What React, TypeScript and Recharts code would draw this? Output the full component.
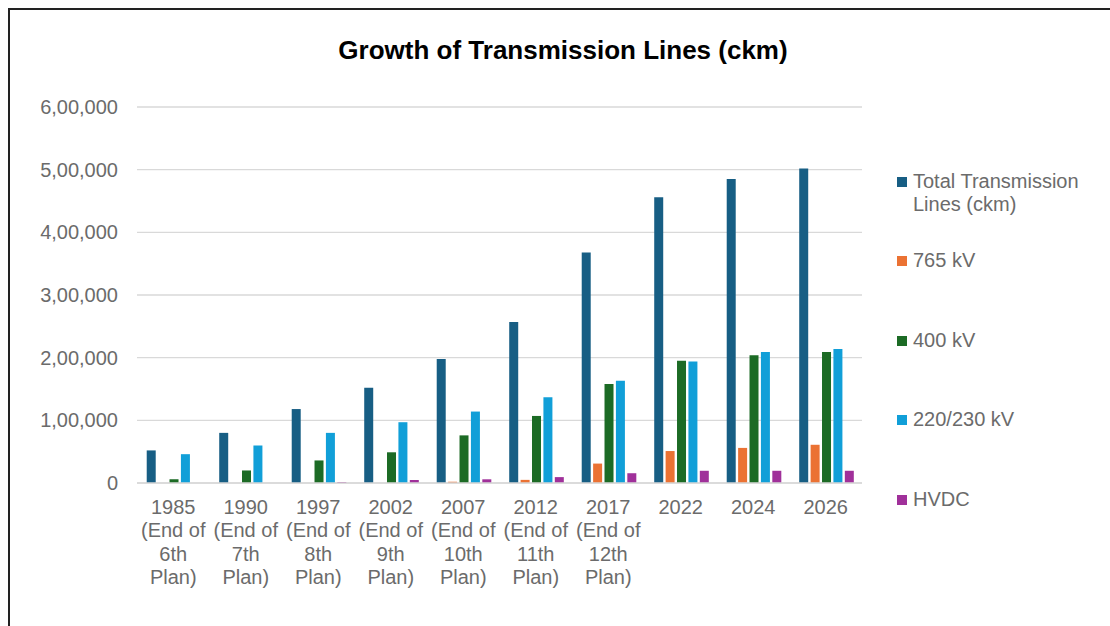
import { BarChart, Bar, XAxis, YAxis, CartesianGrid } from "recharts";

const years = ["1985", "1990", "1997", "2002", "2007", "2012", "2017", "2022", "2024", "2026"];
const planNotes = ["6th", "7th", "8th", "9th", "10th", "11th", "12th", "", "", ""];

const totalLines = [52000, 80000, 118000, 152000, 198000, 257000, 368000, 456000, 485000, 502000];
const kv765 = [0, 0, 0, 0, 2000, 5000, 31000, 51000, 56000, 61000];
const kv400 = [6000, 20000, 36000, 49000, 76000, 107000, 158000, 195000, 204000, 209000];
const kv220 = [46000, 60000, 80000, 97000, 114000, 137000, 163000, 194000, 209000, 214000];
const hvdc = [0, 0, 1600, 4800, 5900, 9400, 15600, 19500, 19500, 19500];

const yTicks = [0, 100000, 200000, 300000, 400000, 500000, 600000];

const series = [
  { key: "total", name: ["Total Transmission", "Lines (ckm)"], color: "#175e84", values: totalLines },
  { key: "kv765", name: ["765 kV"], color: "#eb7233", values: kv765 },
  { key: "kv400", name: ["400 kV"], color: "#1c6b25", values: kv400 },
  { key: "kv220", name: ["220/230 kV"], color: "#119fd8", values: kv220 },
  { key: "hvdc", name: ["HVDC"], color: "#a0309a", values: hvdc },
];

const data = years.map((year, i) => {
  const row: Record<string, any> = {
    year,
    lines: planNotes[i] ? [year, "(End of", planNotes[i], "Plan)"] : [year],
  };
  series.forEach((s) => (row[s.key] = s.values[i]));
  return row;
});

// indian digit grouping: 6,00,000
const fmtIndian = (v: number) => {
  const s = String(v);
  if (s.length <= 3) return s;
  const last3 = s.slice(-3);
  const rest = s.slice(0, -3).replace(/\B(?=(\d{2})+(?!\d))/g, ",");
  return rest + "," + last3;
};

const textColor = "#6b6b6b";
const font = "'Liberation Sans', Arial, sans-serif";

const XTick = (props: any) => {
  const { x, y, index } = props;
  const lines: string[] = data[index].lines;
  return (
    <text x={x} y={y} textAnchor="middle" fill={textColor} fontSize={20} fontFamily={font}>
      {lines.map((l, k) => (
        <tspan key={k} x={x} dy={k === 0 ? 23 : 23.3}>
          {l}
        </tspan>
      ))}
    </text>
  );
};

const legendGaps = [0, 33, 57, 56, 57];

export default function App() {
  return (
    <div style={{ position: "absolute", left: 0, top: 0, width: 1110, height: 626, overflow: "hidden", background: "#fff" }}>
      <div
        style={{
          position: "absolute",
          left: 8,
          top: 8,
          width: 1200,
          height: 700,
          borderLeft: "2px solid #222",
          borderTop: "2px solid #222",
        }}
      />
      <div
        style={{
          position: "absolute",
          left: 0,
          top: 35,
          width: 1126,
          textAlign: "center",
          fontFamily: font,
          fontWeight: "bold",
          fontSize: 26,
          color: "#000",
        }}
      >
        Growth of Transmission Lines (ckm)
      </div>
      <div style={{ position: "absolute", left: 0, top: 0 }}>
        <BarChart
          width={1110}
          height={626}
          data={data}
          margin={{ top: 107, right: 248, bottom: 113, left: 0 }}
          barCategoryGap="13.4%"
          barGap={2.4}
        >
          <CartesianGrid vertical={false} stroke="#d9d9d9" strokeWidth={1.3} />
          <XAxis
            dataKey="year"
            height={30}
            tick={<XTick />}
            tickLine={false}
            axisLine={{ stroke: "#d9d9d9", strokeWidth: 1.5 }}
            interval={0}
          />
          <YAxis
            width={137}
            domain={[0, 600000]}
            ticks={yTicks}
            tickFormatter={fmtIndian}
            axisLine={false}
            tickLine={false}
            tickMargin={13}
            tick={{ fill: textColor, fontSize: 20, fontFamily: font }}
          />
          {series.map((s) => (
            <Bar key={s.key} dataKey={s.key} fill={s.color} isAnimationActive={false} />
          ))}
        </BarChart>
      </div>
      <div style={{ position: "absolute", left: 897, top: 170, fontFamily: font, fontSize: 20, color: textColor, lineHeight: "23px" }}>
        {series.map((s, i) => (
          <div key={s.key} style={{ display: "flex", alignItems: "flex-start", marginTop: legendGaps[i] }}>
            <div style={{ width: 10, height: 10, background: s.color, marginTop: 7, marginRight: 6, flexShrink: 0 }} />
            <div>
              {s.name.map((n, k) => (
                <div key={k}>{n}</div>
              ))}
            </div>
          </div>
        ))}
      </div>
    </div>
  );
}
